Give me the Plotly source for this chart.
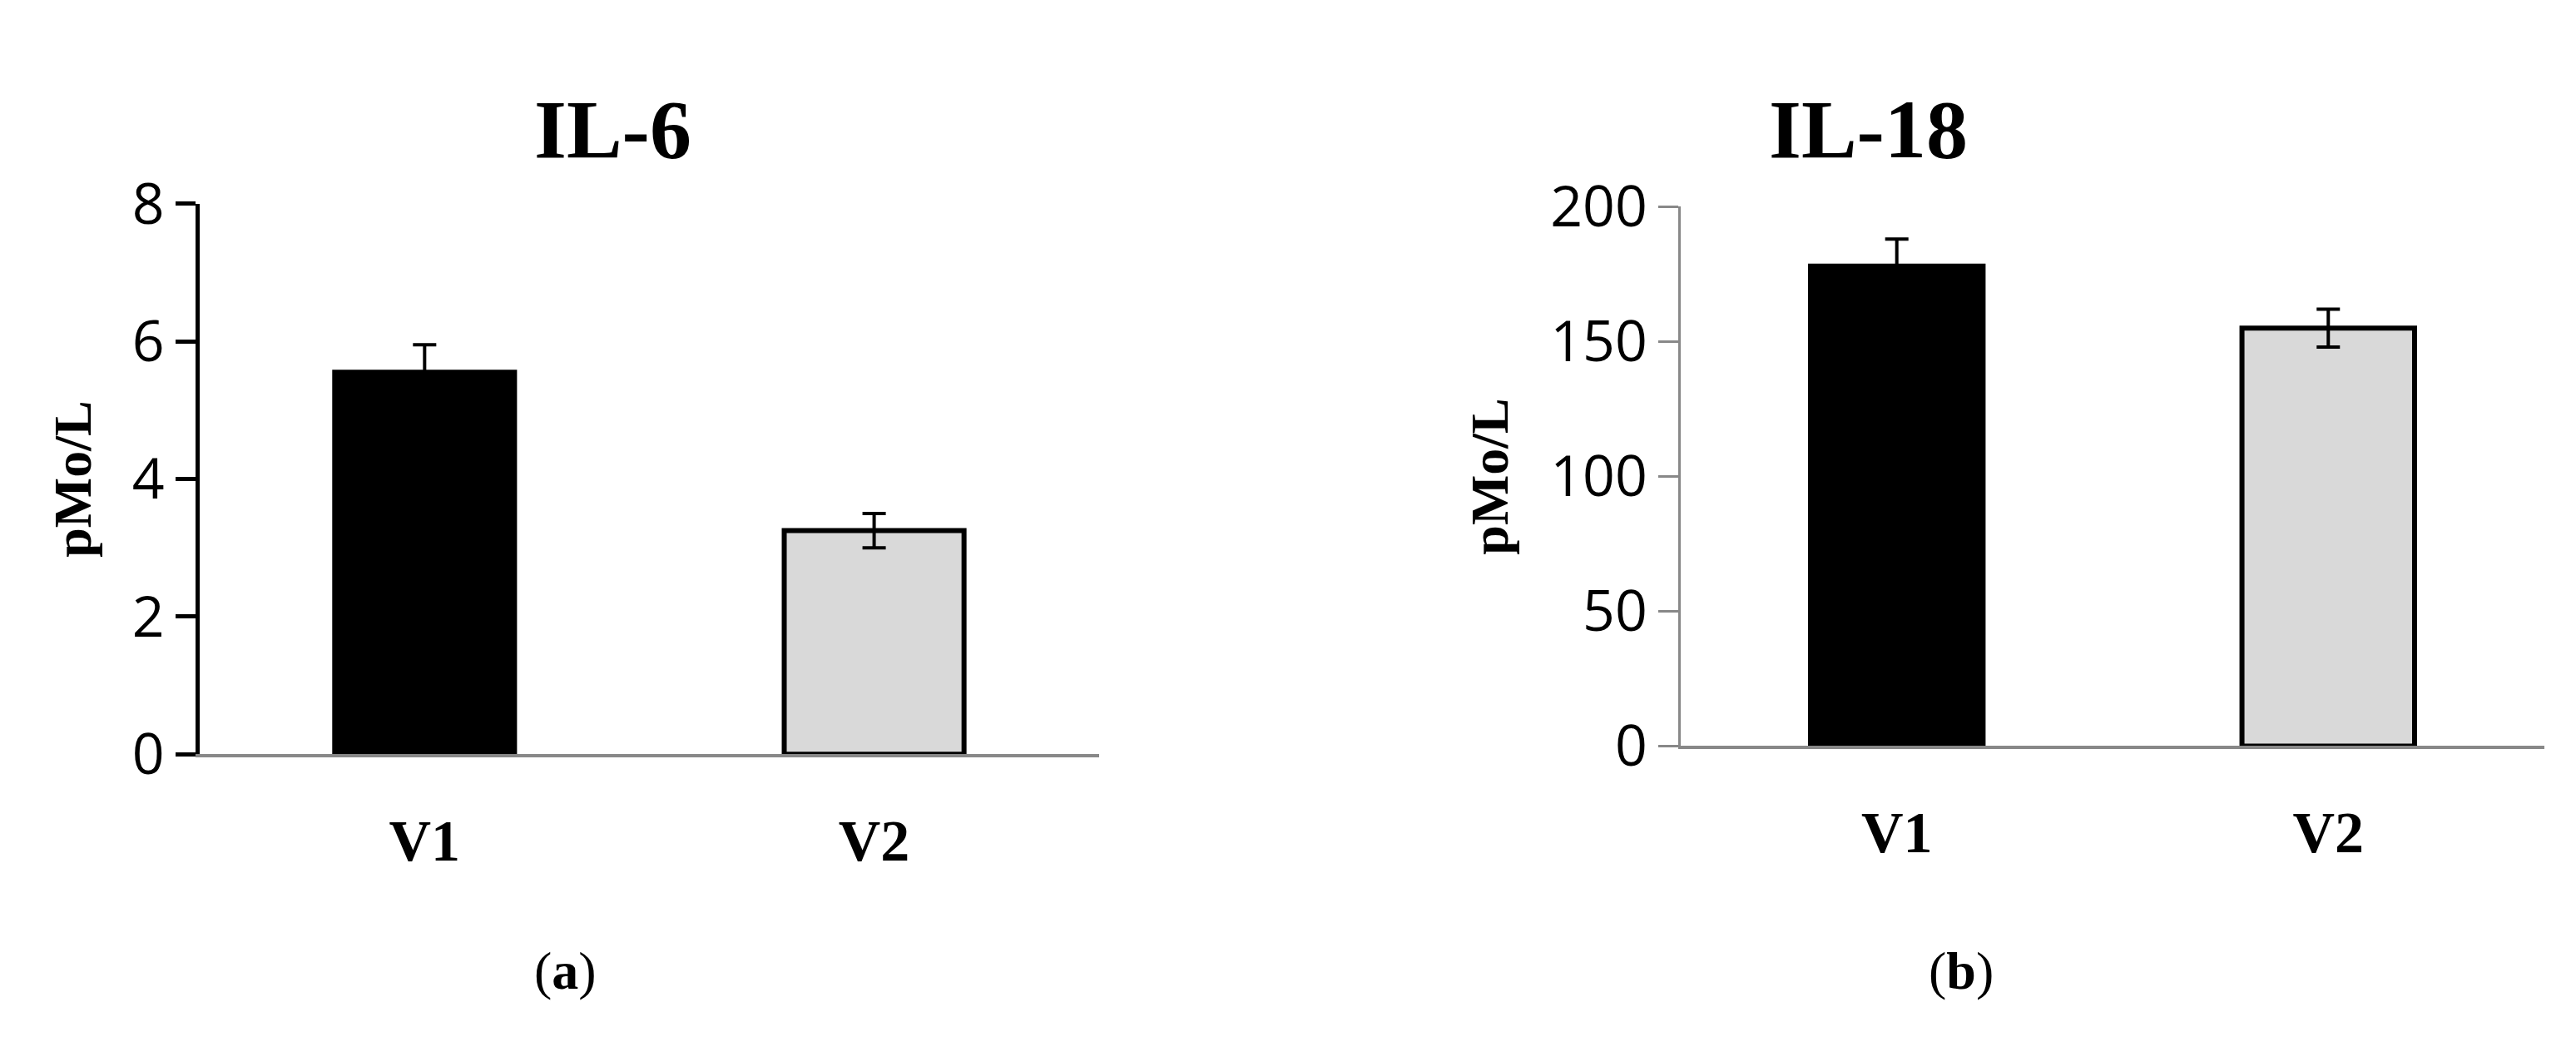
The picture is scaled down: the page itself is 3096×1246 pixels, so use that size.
import plotly.graph_objects as go

categories = ["V1", "V2"]
il6_values = [5.55, 3.25]
il6_errors = [0.4, 0.25]
il18_values = [178, 155]
il18_errors = [10, 7]
il6_ticks = [0, 2, 4, 6, 8]
il18_ticks = [0, 50, 100, 150, 200]

colors = ["#000000", "#d9d9d9"]
serif = "Liberation Serif"
sans = "Open Sans"

fig = go.Figure()
for vals, errs, xa, ya in [(il6_values, il6_errors, "x", "y"), (il18_values, il18_errors, "x2", "y2")]:
    fig.add_trace(go.Bar(
        x=categories, y=vals, xaxis=xa, yaxis=ya, width=0.4,
        marker=dict(color=colors, line=dict(color="black", width=6)),
        error_y=dict(type="data", array=errs, visible=True, color="black", thickness=4, width=14),
        showlegend=False))

xcommon = dict(type="category", range=[-0.5, 1.5], showline=True, linecolor="#888888", linewidth=4,
               ticks="", tickvals=categories, ticktext=["<b>%s</b>" % c for c in categories],
               tickfont=dict(family=serif, size=70, color="black"), ticklabelstandoff=40,
               showgrid=False, zeroline=False)
fig.update_layout(
    width=3096, height=1246, margin=dict(l=0, r=0, t=0, b=0, autoexpand=False),
    plot_bgcolor="white", paper_bgcolor="white", bargap=0.6,
    xaxis=dict(domain=[0.075, 0.424], anchor="y", **xcommon),
    xaxis2=dict(domain=[0.650, 0.985], anchor="y2", **xcommon),
    yaxis=dict(domain=[0.279, 0.81], range=[0, 8], tickvals=il6_ticks, showline=True, linecolor="black",
               linewidth=5, ticks="outside", ticklen=24, tickwidth=5, tickcolor="black",
               tickfont=dict(family=sans, size=68, color="black"), showgrid=False, zeroline=False,
               title=dict(text="<b>pMo/L</b>", font=dict(family=serif, size=64, color="black"), standoff=30)),
    yaxis2=dict(domain=[0.287, 0.807], range=[0, 200], tickvals=il18_ticks, anchor="x2", showline=True,
                linecolor="#888888", linewidth=3, ticks="outside", ticklen=24, tickwidth=3, tickcolor="#888888",
                tickfont=dict(family=sans, size=68, color="black"), showgrid=False, zeroline=False,
                title=dict(text="<b>pMo/L</b>", font=dict(family=serif, size=64, color="black"), standoff=30)),
    annotations=[
        dict(text="<b>IL-6</b>", x=0.204, y=0.928, xref="paper", yref="paper", showarrow=False,
             font=dict(family=serif, size=100, color="black")),
        dict(text="<b>IL-18</b>", x=0.762, y=0.928, xref="paper", yref="paper", showarrow=False,
             font=dict(family=serif, size=100, color="black")),
        dict(text="(<b>a</b>)", x=0.204, y=0.04, xref="paper", yref="paper", showarrow=False,
             font=dict(family=serif, size=64, color="black")),
        dict(text="(<b>b</b>)", x=0.772, y=0.04, xref="paper", yref="paper", showarrow=False,
             font=dict(family=serif, size=64, color="black")),
    ])
fig.write_html("out.html")
